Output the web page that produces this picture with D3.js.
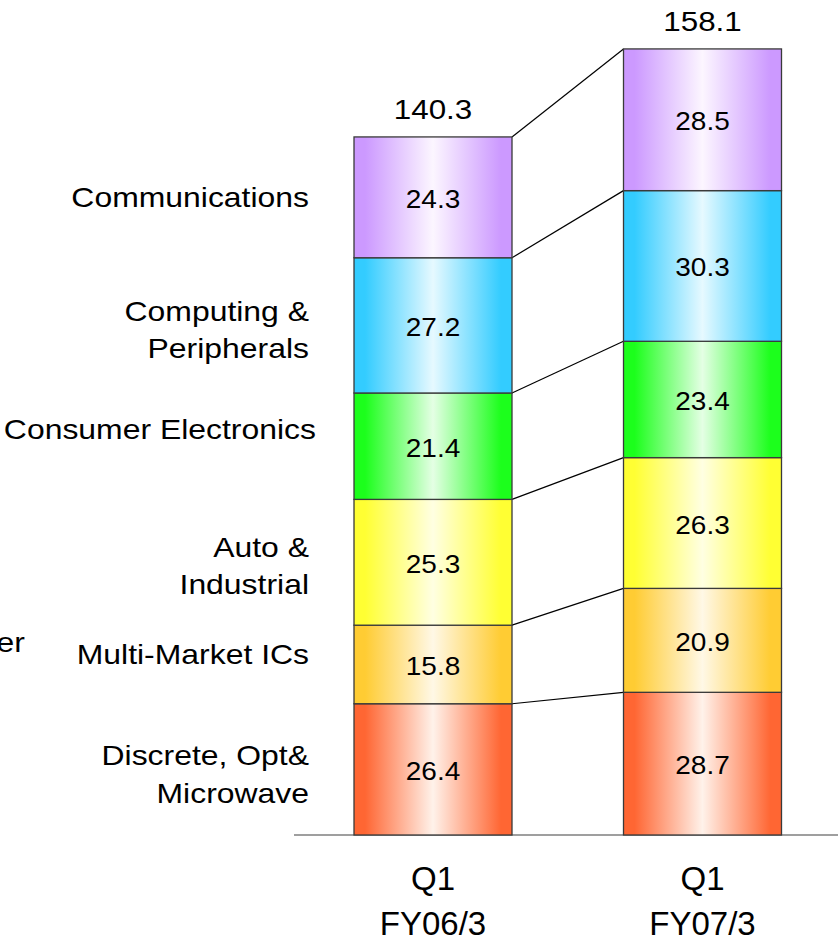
<!DOCTYPE html>
<html><head><meta charset="utf-8">
<script src="https://cdn.jsdelivr.net/npm/d3@7/dist/d3.min.js"></script>
<style>
html,body{margin:0;padding:0;background:#fff;}
svg{display:block;font-family:Arial,"Liberation Sans",Helvetica,sans-serif;}
</style></head>
<body>
<svg id="chart" width="838" height="941"></svg>
<script>
// ---- data ----
const periods = ["Q1 FY06/3", "Q1 FY07/3"];
const periodLines = [["Q1", "FY06/3"], ["Q1", "FY07/3"]];
const segments = ["Discrete, Opt& Microwave", "Multi-Market ICs", "Auto & Industrial",
                  "Consumer Electronics", "Computing & Peripherals", "Communications"];
const segmentLines = [["Discrete, Opt&", "Microwave"], ["Multi-Market ICs"], ["Auto &", "Industrial"],
                      ["Consumer Electronics"], ["Computing &", "Peripherals"], ["Communications"]];
const valuesFY06 = [26.4, 15.8, 25.3, 21.4, 27.2, 24.3];
const valuesFY07 = [28.7, 20.9, 26.3, 23.4, 30.3, 28.5];
const totals = [140.3, 158.1];
const baseColors  = ["#ff6633", "#ffcc33", "#ffff33", "#1cff1c", "#33ccff", "#cc99ff"];
const lightColors = ["#fff2ea", "#fff8e6", "#ffffe2", "#e4ffe4", "#e6f9ff", "#fcf6ff"];

// ---- layout ----
const svg = d3.select("#chart");
const baseY = 835;
const y = d3.scaleLinear().domain([0, 160]).range([baseY, baseY - 160 * 4.972]);
const x = d3.scalePoint().domain(periods).range([433, 702.5]);
const barW = 158;
const SX = 1.12; // horizontal stretch of the source typeface

const series = [valuesFY06, valuesFY07];
const stackData = periods.map((p, pi) => {
  let cum = 0;
  return series[pi].map((v, si) => {
    const d = {period: p, si, v, y0: cum, y1: cum + v};
    cum += v;
    return d;
  });
});

// gradients
const defs = svg.append("defs");
segments.forEach((s, i) => {
  const g = defs.append("linearGradient").attr("id", "grad" + i)
    .attr("x1", 0).attr("x2", 1).attr("y1", 0).attr("y2", 0);
  [[0, baseColors[i]], [0.07, baseColors[i]], [0.5, lightColors[i]], [0.93, baseColors[i]], [1, baseColors[i]]]
    .forEach(([o, c]) => g.append("stop").attr("offset", o).attr("stop-color", c));
});

// baseline
svg.append("line").attr("x1", 294).attr("x2", 838).attr("y1", baseY).attr("y2", baseY)
  .attr("stroke", "#7f7f7f").attr("stroke-width", 1.5);

// connectors
const cons = segments.map((s, i) => ({a: stackData[0][i].y1, b: stackData[1][i].y1}));
svg.append("g").selectAll("line").data(cons).join("line")
  .attr("x1", x(periods[0]) + barW / 2).attr("x2", x(periods[1]) - barW / 2)
  .attr("y1", d => y(d.a)).attr("y2", d => y(d.b))
  .attr("stroke", "#000").attr("stroke-width", 1.2);

// bars
const barG = svg.append("g");
stackData.forEach((col) => {
  barG.append("g").selectAll("rect").data(col).join("rect")
    .attr("x", d => x(d.period) - barW / 2)
    .attr("width", barW)
    .attr("y", d => y(d.y1))
    .attr("height", d => y(d.y0) - y(d.y1))
    .attr("fill", d => "url(#grad" + d.si + ")")
    .attr("stroke", "#3a3a3a").attr("stroke-width", 1.3);
});

// value labels
stackData.forEach((col) => {
  barG.append("g").selectAll("text").data(col).join("text")
    .attr("transform", d => `translate(${x(d.period)},${(y(d.y0) + y(d.y1)) / 2 + 10.5}) scale(${SX},1)`)
    .attr("text-anchor", "middle")
    .attr("font-size", 25).attr("fill", "#000")
    .text(d => d.v.toFixed(1));
});

// totals
svg.append("g").selectAll("text").data(periods).join("text")
  .attr("transform", (d, i) => `translate(${x(d)},${y(totals[i]) - 18}) scale(${SX},1)`)
  .attr("text-anchor", "middle").attr("font-size", 28).attr("fill", "#000")
  .text((d, i) => totals[i].toFixed(1));

// category labels (aligned to FY06 segments)
const labelNudge = [4.5, -10, 3, -17, 4, 0];
const labelRight = [309, 309, 309, 316, 309, 309];
const lineH = 37.5;
const catG = svg.append("g");
segments.forEach((s, i) => {
  const d = stackData[0][i];
  const cy = (y(d.y0) + y(d.y1)) / 2 + labelNudge[i];
  const lines = segmentLines[i];
  lines.forEach((ln, li) => {
    catG.append("text").attr("text-anchor", "end")
      .attr("font-size", 28.5).attr("fill", "#000")
      .attr("transform", `translate(${labelRight[i]},${cy + 10 + (li - (lines.length - 1) / 2) * lineH}) scale(${SX},1)`)
      .text(ln);
  });
});

// clipped fragment at left edge (as in the source)
svg.append("text").attr("transform", `translate(25,652) scale(${SX},1)`).attr("text-anchor", "end")
  .attr("font-size", 28.5).attr("fill", "#000").text("ver");

// x labels
svg.append("g").selectAll("text").data(periods).join("text")
  .attr("text-anchor", "middle").attr("font-size", 33).attr("fill", "#000")
  .each(function(d, i) {
    const t = d3.select(this);
    periodLines[i].forEach((ln, li) => {
      t.append("tspan").attr("x", x(d)).attr("y", 890 + li * 45).text(ln);
    });
  });
</script>
</body></html>
